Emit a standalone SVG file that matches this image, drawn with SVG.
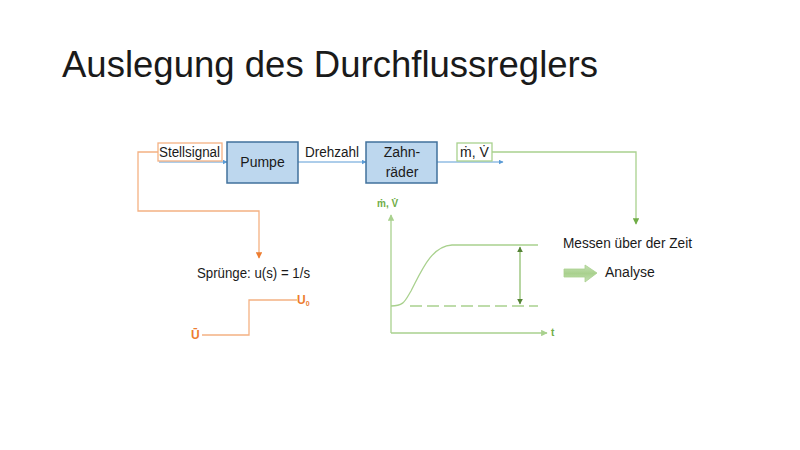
<svg xmlns="http://www.w3.org/2000/svg" width="800" height="450" viewBox="0 0 800 450">
<style>
text{font-family:"Liberation Sans",Arial,sans-serif;fill:#1a1a1a}
.t{font-size:14px}
.blk{fill:#BDD7EE;stroke:#41719C;stroke-width:1.5}
.blue{stroke:#5B9BD5;stroke-width:1;fill:none}
.or{stroke:#F4B183;stroke-width:1.3;fill:none}
.gr{stroke:#A9D18E;stroke-width:1.3;fill:none}
.grd{stroke:#70AD47;stroke-width:1;fill:none}
.ot{fill:#ED7D31;font-weight:bold;font-size:12px}
.gt{fill:#70AD47;font-weight:bold;font-size:10px}
</style>
<defs>
<marker id="ab" viewBox="0 0 10 10" refX="9" refY="5" markerWidth="5" markerHeight="5" orient="auto"><path d="M0,0L10,5L0,10z" fill="#5B9BD5"/></marker>
<marker id="ag" viewBox="0 0 10 10" refX="9" refY="5" markerWidth="5" markerHeight="5" orient="auto"><path d="M0,0L10,5L0,10z" fill="#70AD47"/></marker>
<marker id="agl" viewBox="0 0 10 10" refX="9" refY="5" markerWidth="5" markerHeight="5" orient="auto"><path d="M0,0L10,5L0,10z" fill="#A9D18E"/></marker>
<marker id="ao" viewBox="0 0 10 10" refX="9" refY="5" markerWidth="5" markerHeight="5" orient="auto"><path d="M0,0L10,5L0,10z" fill="#ED7D31"/></marker>
<marker id="agd" viewBox="0 0 10 10" refX="9" refY="5" markerWidth="6" markerHeight="6" orient="auto-start-reverse"><path d="M0,0L10,5L0,10z" fill="#548235"/></marker>
<linearGradient id="lg" x1="0" y1="0" x2="0" y2="1"><stop offset="0" stop-color="#C5E0B4"/><stop offset="0.5" stop-color="#A9D18E"/><stop offset="1" stop-color="#C5E0B4"/></linearGradient>
</defs>
<rect width="800" height="450" fill="#fff"/>
<text x="62" y="77" font-size="36" fill="#000" textLength="536" lengthAdjust="spacingAndGlyphs">Auslegung des Durchflussreglers</text>

<g id="connectors">
<path class="blue" d="M159,162H227" marker-end="url(#ab)"/>
<path class="blue" d="M298,162H366" marker-end="url(#ab)"/>
<path class="blue" d="M437,162H503" marker-end="url(#ab)"/>
<path class="or" d="M158,152H138V211H259V258" marker-end="url(#ao)"/>
<path class="gr" d="M492,152H636V224" marker-end="url(#ag)"/>
</g>

<g id="stellsignal">
<rect x="158" y="143" width="64" height="18" fill="#fff" stroke="#F4B183" stroke-width="1.3"/>
<text class="t" x="159" y="157" textLength="61" lengthAdjust="spacingAndGlyphs">Stellsignal</text>
</g>
<g id="pumpe">
<rect class="blk" x="227" y="142" width="71" height="41"/>
<text class="t" x="262.5" y="167" text-anchor="middle">Pumpe</text>
</g>
<g id="drehzahl"><text class="t" x="305" y="157" textLength="54" lengthAdjust="spacingAndGlyphs">Drehzahl</text></g>
<g id="zahnraeder">
<rect class="blk" x="366" y="142" width="71" height="41"/>
<text class="t" x="402" y="157" text-anchor="middle">Zahn-</text>
<text class="t" x="402" y="177" text-anchor="middle">räder</text>
</g>
<g id="mv">
<rect x="457" y="143" width="35" height="18" fill="#fff" stroke="#A9D18E" stroke-width="1.3"/>
<text class="t" x="460" y="157">ṁ, V̇</text>
</g>

<g id="spruenge">
<text class="t" x="197" y="278" textLength="113" lengthAdjust="spacingAndGlyphs">Sprünge: u(s) = 1/s</text>
<path class="or" d="M202,335H249V300H297"/>
<text class="ot" x="191" y="339">Ū</text>
<text class="ot" x="297" y="304">U<tspan font-size="7" dy="2">0</tspan></text>
</g>

<g id="graph">
<path class="gr" d="M391,333V215" marker-end="url(#agl)"/>
<path class="gr" d="M391,333H547" marker-end="url(#agl)"/>
<text class="gt" x="377" y="207">ṁ, V̇</text>
<text class="gt" x="551" y="336">t</text>
<path class="gr" d="M391,306C404,306 405,301 411,291C421,272 431,246 452,245H538"/>
<path class="gr" d="M410,306H538" stroke-dasharray="12,5"/>
<path class="grd" d="M520,247V304" marker-start="url(#agd)" marker-end="url(#agd)"/>
</g>

<g id="messen"><text class="t" x="563" y="248" textLength="129" lengthAdjust="spacingAndGlyphs">Messen über der Zeit</text></g>
<g id="analyse">
<polygon points="564,269 585,269 585,265 597,273 585,282 585,277 564,277" fill="url(#lg)" stroke="#A9D18E" stroke-width="0.8"/>
<text class="t" x="605" y="277">Analyse</text>
</g>
</svg>
